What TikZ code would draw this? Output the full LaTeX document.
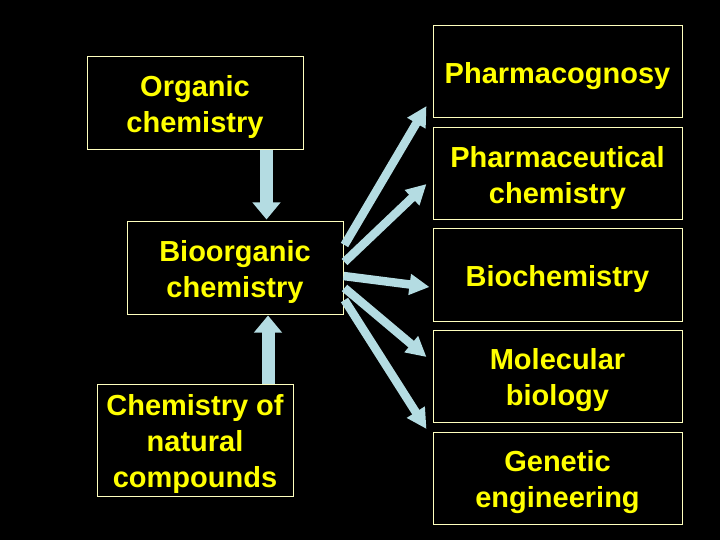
\documentclass[tikz,border=0pt]{standalone}
\usepackage{fontspec}
\setmainfont{Liberation Sans}
\usetikzlibrary{arrows.meta,calc}
\definecolor{txtyellow}{RGB}{255,255,0}
\definecolor{boxline}{RGB}{255,255,190}
\definecolor{arrowblue}{RGB}{180,220,226}
\tikzset{
  box/.style={draw=boxline, line width=1pt, fill=black, text=txtyellow,
    inner sep=0pt, align=center, anchor=center,
    font=\fontsize{29}{36}\selectfont\bfseries},
  txt/.style={text=txtyellow, inner sep=0pt, align=center,
    font=\fontsize{29}{36}\selectfont\bfseries, yshift=-4pt},
  vbig/.style={draw=arrowblue, line width=13pt,
    -{Triangle[width=27pt,length=17pt]}},
  dbig/.style={draw=arrowblue, line width=8.5pt,
    -{Triangle[width=20pt,length=20pt]}}
}
\begin{document}
\begin{tikzpicture}[x=1pt,y=-1pt]
\fill[black] (0,0) rectangle (720,540);
\useasboundingbox (0,0) rectangle (720,540);
\node[box, minimum width=216pt, minimum height=93pt, label={[txt]center:{Organic\\chemistry}}] (org) at (195,103.5) {};
\node[box, minimum width=216pt, minimum height=92pt, label={[txt]center:{Bioorganic\\chemistry}}] (bio) at (235,268) {};
\node[box, minimum width=196pt, minimum height=112pt, label={[txt]center:{Chemistry of\\natural\\compounds}}] (nat) at (195,440) {};
\node[box, minimum width=249pt, minimum height=92pt, label={[txt]center:{Pharmacognosy}}] (pg) at (557.5,72) {};
\node[box, minimum width=249pt, minimum height=92pt, label={[txt]center:{Pharmaceutical\\chemistry}}] (pc) at (557.5,174) {};
\node[box, minimum width=249pt, minimum height=92pt, label={[txt]center:{Biochemistry}}] (bc) at (557.5,275) {};
\node[box, minimum width=249pt, minimum height=92pt, label={[txt]center:{Molecular\\biology}}] (mb) at (557.5,376) {};
\node[box, minimum width=249pt, minimum height=92pt, label={[txt]center:{Genetic\\engineering}}] (ge) at (557.5,478) {};
% vertical arrows
\draw[vbig] (266.5,0 |- org.south) -- ($(266.5,0 |- bio.north)+(0,-2)$);
\draw[vbig] (268,0 |- nat.north) -- ($(268,0 |- bio.south)+(0,1)$);
% fan arrows
\draw[dbig] ($(bio.east)+(1,-23)$) -- ($(pg.west)+(-6,34)$);
\draw[dbig] ($(bio.east)+(1,-6)$) -- ($(pc.west)+(-6,10)$);
\draw[dbig] ($(bio.east)+(0,8)$) -- ($(bc.west)+(-3,12)$);
\draw[dbig] ($(bio.east)+(1,20)$) -- ($(mb.west)+(-6,-19)$);
\draw[dbig] ($(bio.east)+(1,32)$) -- ($(ge.west)+(-6,-49)$);
\end{tikzpicture}
\end{document}
